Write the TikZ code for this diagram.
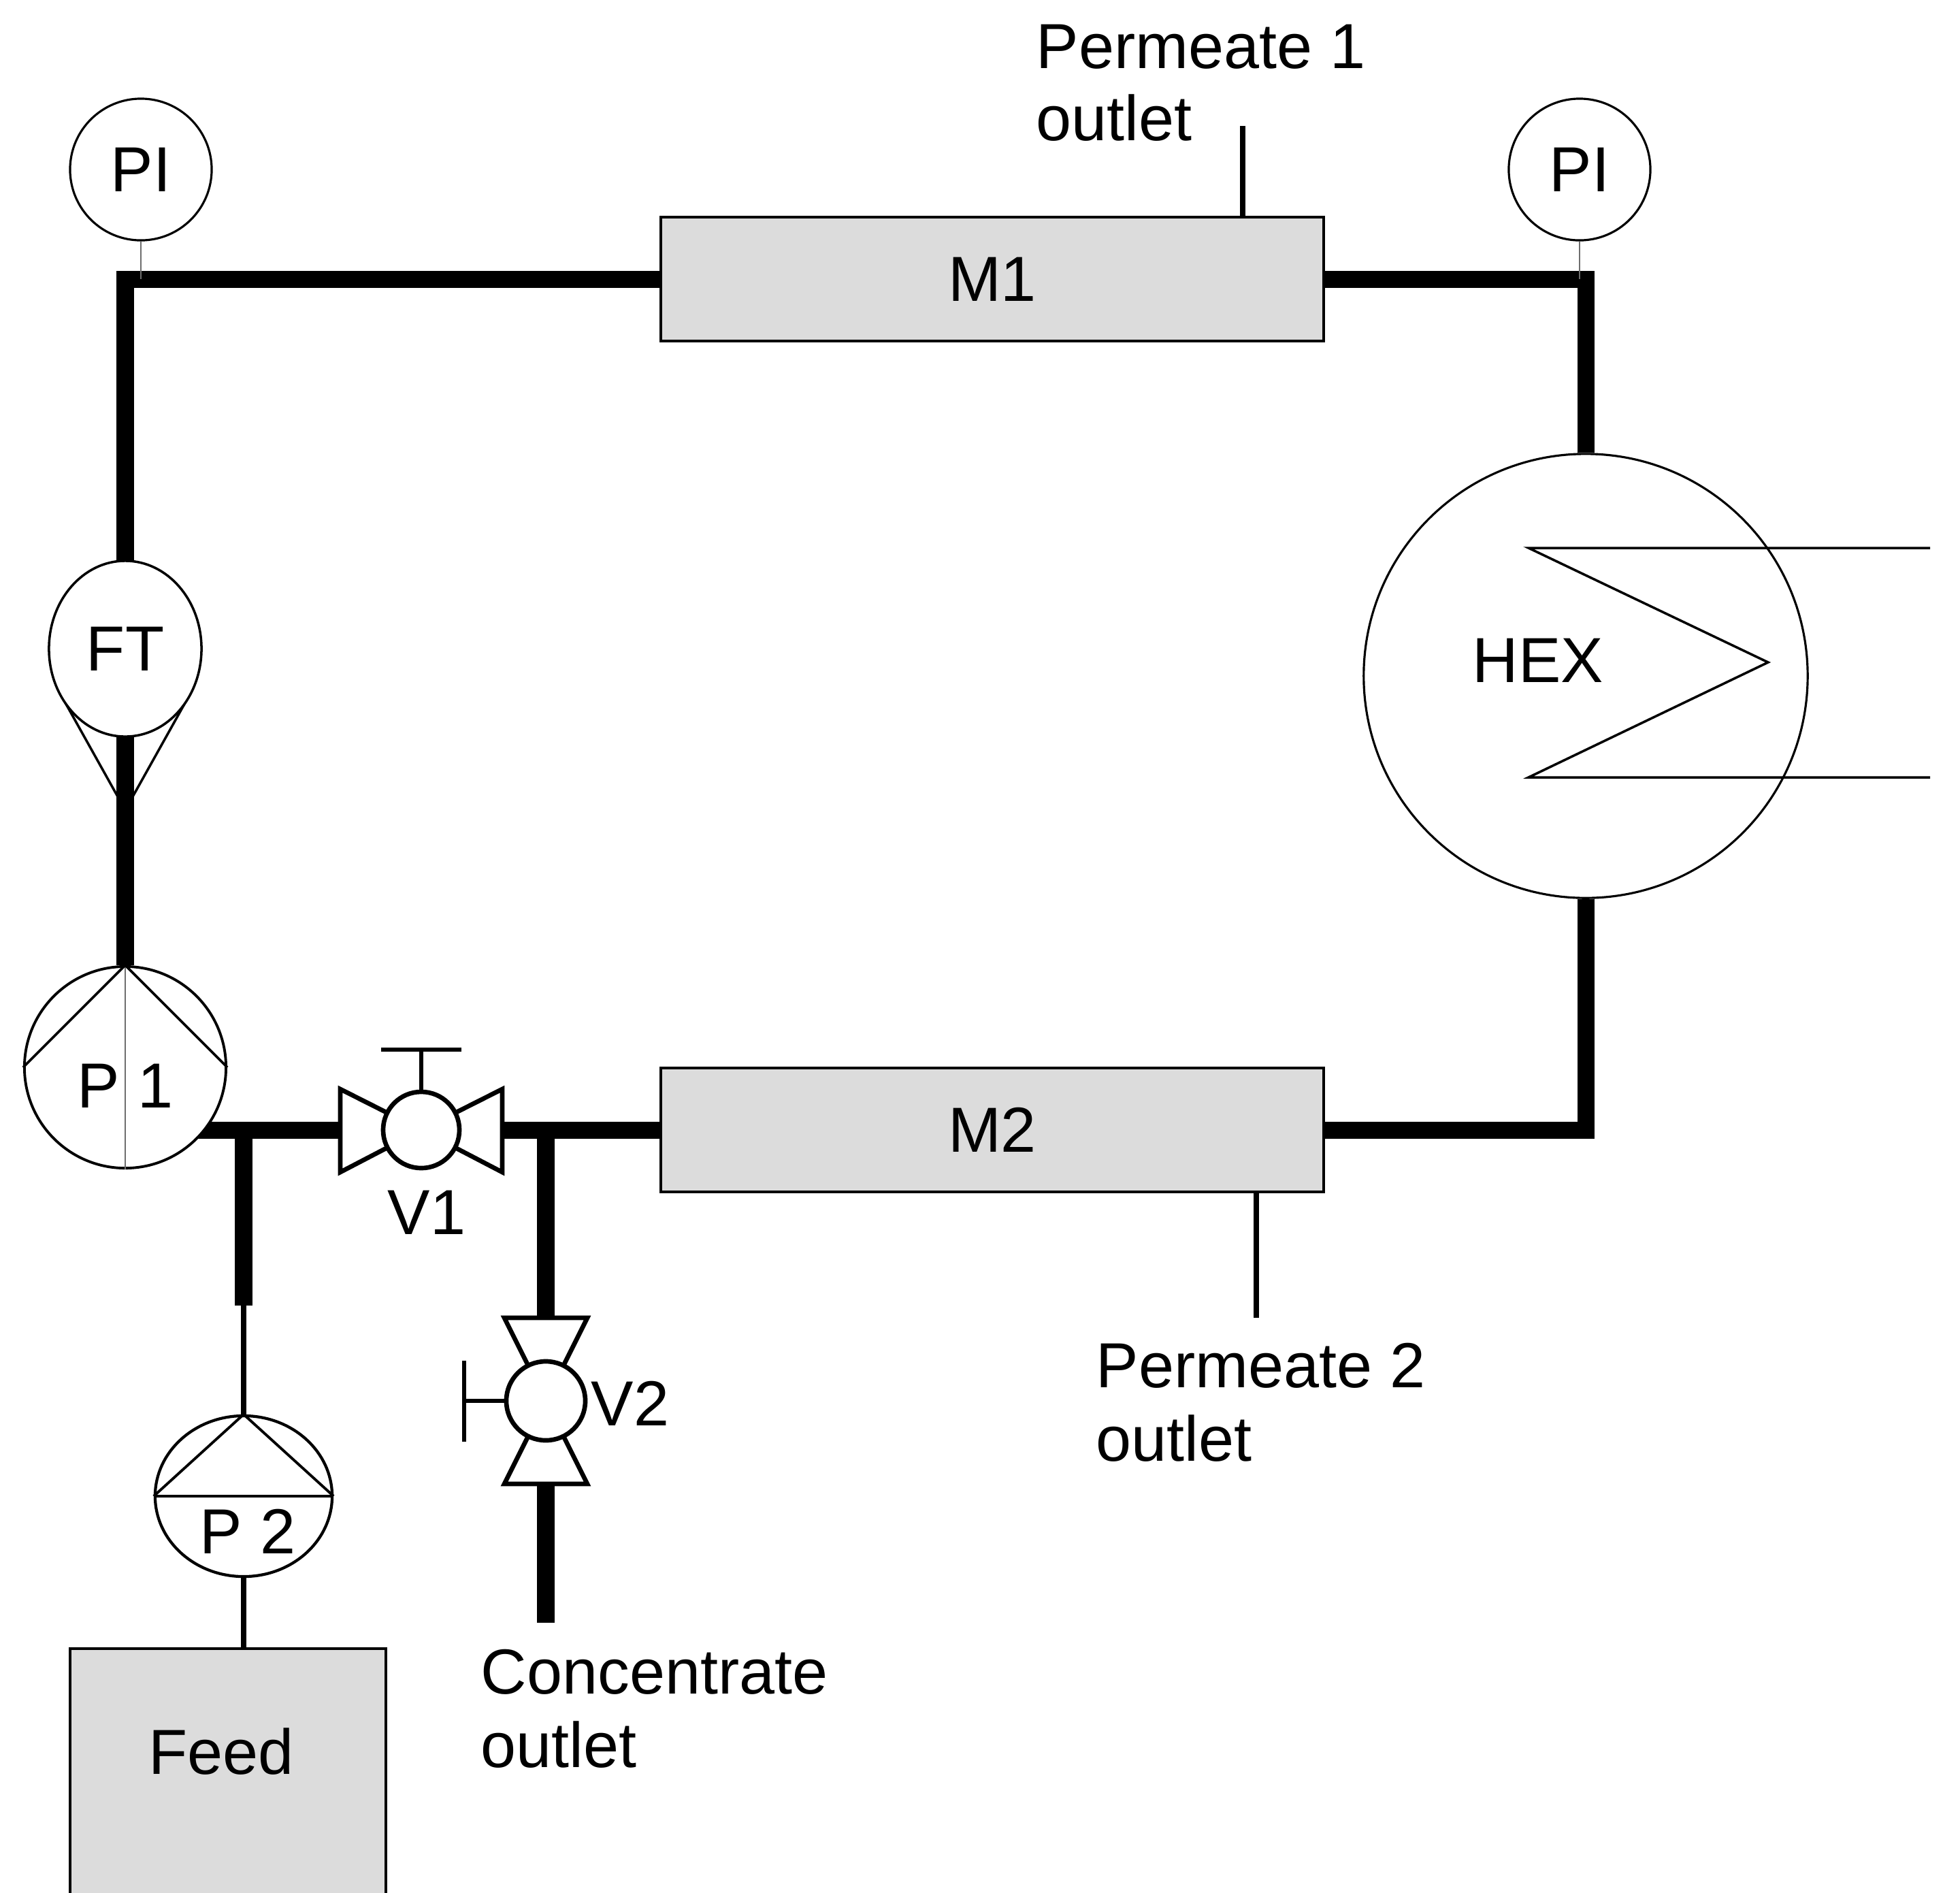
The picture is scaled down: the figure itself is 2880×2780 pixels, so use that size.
\documentclass[tikz,border=0pt]{standalone}
\usepackage{fontspec}
\setmainfont{Liberation Sans}
\usetikzlibrary{shapes.geometric,backgrounds,calc}
\definecolor{mgray}{RGB}{220,220,220}
\definecolor{stemgray}{RGB}{110,110,110}
\begin{document}
\begin{tikzpicture}[x=0.01cm,y=-0.01cm,
  every node/.style={font=\fontsize{26.6pt}{30pt}\selectfont, inner sep=0pt},
  pipe/.style={line width=0.25cm, line join=miter},
  outl/.style={draw, line width=0.9pt, fill=white},
  membrane/.style={draw, line width=1.1pt, fill=mgray, minimum width=9.73cm, minimum height=1.82cm},
  thinpipe/.style={line width=2pt},
  stem/.style={line width=0.6pt, draw=stemgray},
  valveedge/.style={draw, line width=1.9pt, fill=white, line join=miter},
  handle/.style={line width=1.9pt},
  lbl/.style={inner sep=0pt}]
\useasboundingbox (0,0) rectangle (2880,2780);

% corner / junction coordinates
\coordinate (cTL) at (184,410);
\coordinate (cTR) at (2330,410);
\coordinate (cBR) at (2330,1660);
\coordinate (p1out) at (184,1660);
\coordinate (t1) at (358,1660);
\coordinate (t1end) at (358,1918);
\coordinate (t2) at (802,1660);
\coordinate (v1c) at (619,1660);
\coordinate (v2c) at (802,2058);
\coordinate (conc) at (802,2384);
\coordinate (perm1end) at (1826,185);
\coordinate (perm2end) at (1846,1936);

% membranes and instruments
\node[membrane] (m1) at (1458,410) {M1};
\node[membrane] (m2) at (1458,1660) {M2};
\node[outl, circle, minimum size=2.08cm] (pi1) at (207,249) {PI};
\node[outl, circle, minimum size=2.08cm] (pi2) at (2321,249) {PI};

% flow transmitter funnel
\draw[line width=1pt] (84,1011) -- (184,1190) -- (284,1011);
\node[outl, ellipse, line width=1pt, minimum width=2.24cm, minimum height=2.58cm] (ft) at (184,953) {FT};

% pump P1
\node[outl, circle, line width=1.1pt, minimum size=2.96cm] (p1) at (184,1568) {};
\draw[line width=0.8pt, draw=stemgray] (p1.north) -- (p1.south);
\draw[line width=1.1pt] (p1.west) -- (p1.north) -- (p1.east);
\node[lbl] (p1lbl) at (184,1595) {P 1};

% pump P2
\node[outl, ellipse, line width=1.2pt, minimum width=2.6cm, minimum height=2.36cm] (p2) at (358,2198) {};
\draw[line width=1.1pt] (p2.west) -- (p2.east);
\draw[line width=1.1pt] (p2.west) -- (p2.north) -- (p2.east);
\node[lbl] (p2lbl) at (364,2250) {P 2};

% feed tank
\node[draw, line width=1.1pt, fill=mgray, minimum width=4.64cm, minimum height=4.2cm, anchor=north] (feed) at (335,2420) {};
\node[lbl] (feedlbl) at (325,2573) {Feed};

% heat exchanger
\node[outl, circle, minimum size=6.52cm] (hex) at (2330,993) {};
\draw[line width=1pt] (2836,805) -- (2246,805) -- (2598,973) -- (2246,1142) -- (2836,1142);
\node[lbl] (hexlbl) at (2260,970) {HEX};

% valve V1
\draw[handle] ($(v1c)+(0,-57)$) -- ($(v1c)+(0,-118)$);
\draw[handle] ($(v1c)+(-59,-118)$) -- ($(v1c)+(59,-118)$);
\draw[valveedge] ($(v1c)+(-119,-60)$) -- ($(v1c)+(-119,62)$) -- (v1c) -- cycle;
\draw[valveedge] ($(v1c)+(119,-60)$) -- ($(v1c)+(119,62)$) -- (v1c) -- cycle;
\node[circle, draw, line width=1.9pt, fill=white, minimum size=1.12cm] (v1) at (v1c) {};
\coordinate (v1L) at ($(v1c)+(-119,0)$);
\coordinate (v1R) at ($(v1c)+(119,0)$);
\node[lbl] (v1lbl) at (627,1781) {V1};

% valve V2
\draw[handle] ($(v2c)+(-58,0)$) -- ($(v2c)+(-120,0)$);
\draw[handle] ($(v2c)+(-120,-59)$) -- ($(v2c)+(-120,60)$);
\draw[valveedge] ($(v2c)+(-61,-122)$) -- ($(v2c)+(61,-122)$) -- (v2c) -- cycle;
\draw[valveedge] ($(v2c)+(-61,122)$) -- ($(v2c)+(61,122)$) -- (v2c) -- cycle;
\node[circle, draw, line width=1.9pt, fill=white, minimum size=1.16cm] (v2) at (v2c) {};
\coordinate (v2T) at ($(v2c)+(0,-122)$);
\coordinate (v2B) at ($(v2c)+(0,122)$);
\node[lbl, anchor=west] (v2lbl) at (868,2062) {V2};

% text labels
\node[lbl, anchor=base west] (perm1a) at (1522,100) {Permeate 1};
\node[lbl, anchor=base west] (perm1b) at (1522,206) {outlet};
\node[lbl, anchor=base west] (perm2a) at (1610,2038) {Permeate 2};
\node[lbl, anchor=base west] (perm2b) at (1610,2146) {outlet};
\node[lbl, anchor=base west] (conca) at (706,2488) {Concentrate};
\node[lbl, anchor=base west] (concb) at (706,2596) {outlet};

% pipes (behind everything)
\begin{scope}[on background layer]
  \draw[pipe] (m1.west) -- (cTL) -- (p1.north);
  \draw[pipe] (m1.east) -- (cTR) -- (hex.north);
  \draw[pipe] (hex.south) -- (cBR) -- (m2.east);
  \draw[pipe] (p1out) -- (v1L);
  \draw[pipe] (v1R) -- (m2.west);
  \draw[pipe] (t1) -- (t1end);
  \draw[thinpipe] (t1end) -- (p2.north);
  \draw[pipe] (t2) -- (v2T);
  \draw[pipe] (v2B) -- (conc);
  \draw[thinpipe] (p2.south) -- (p2.south |- feed.north);
  \draw[thinpipe] (perm1end) -- (perm1end |- m1.north);
  \draw[thinpipe] (perm2end |- m2.south) -- (perm2end);
  \draw[stem] (pi1.south) -- (pi1.south |- cTL);
  \draw[stem] (pi2.south) -- (pi2.south |- cTR);
\end{scope}
\end{tikzpicture}
\end{document}
